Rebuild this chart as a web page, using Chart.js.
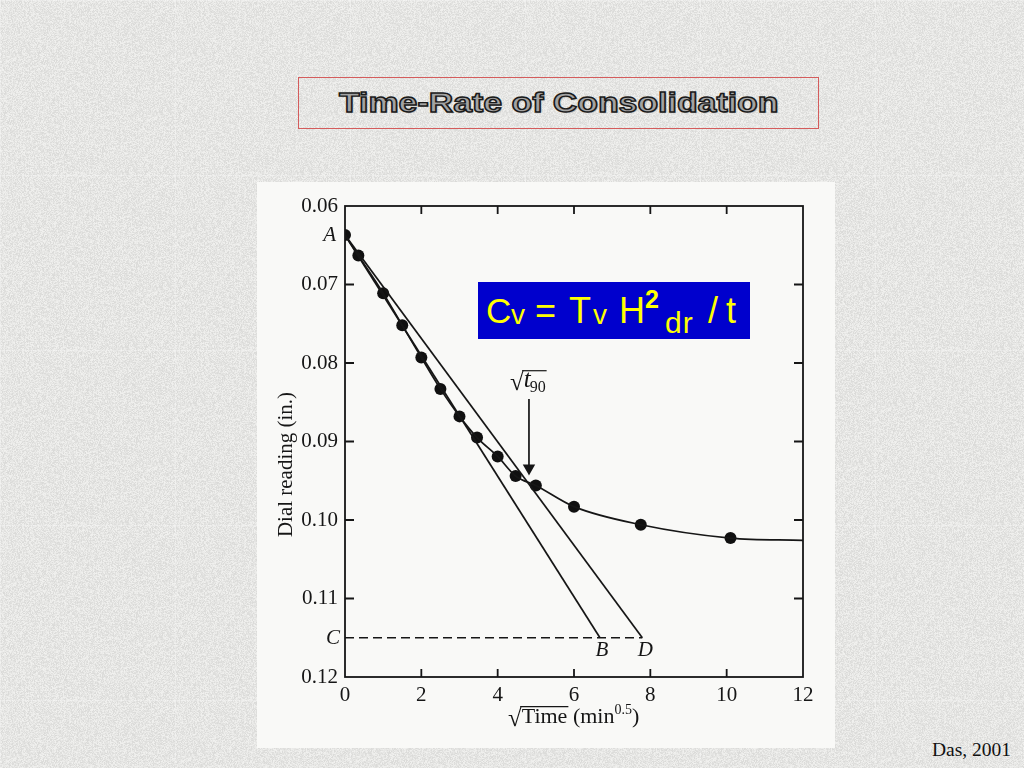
<!DOCTYPE html>
<html><head><meta charset="utf-8">
<script src="https://cdn.jsdelivr.net/npm/chart.js@4.4.0/dist/chart.umd.min.js"></script>
<style>
html,body{margin:0;padding:0;width:1024px;height:768px;overflow:hidden;background:#e3e3e1;}
#title{position:absolute;left:298px;top:77px;width:519px;height:50px;border:1.5px solid #d45c5c;display:flex;align-items:center;justify-content:center;}
#title span{font:bold 28px "Liberation Sans",Arial,sans-serif;color:#a3a3a3;-webkit-text-stroke:1.4px #1a1a1a;display:inline-block;white-space:nowrap;transform-origin:center;text-shadow:1px 1px 1px rgba(0,0,0,0.25);}
#plot{position:absolute;left:257px;top:182px;width:578px;height:566px;background:#f9f9f7;}
canvas#c{position:absolute;left:257px;top:182px;}
#formula{position:absolute;left:478px;top:282px;width:272px;height:57px;background:#0000cd;color:#ffff00;font-family:"Liberation Sans",Arial,sans-serif;white-space:nowrap;}
#formula span{position:absolute;line-height:1;}
#src{position:absolute;left:932px;top:739px;font:19.5px "Liberation Serif","Times New Roman",serif;color:#111;}
</style></head>
<body>
<div id="plot"></div>
<canvas id="c" width="578" height="566"></canvas>
<div id="title"><span id="tt">Time-Rate of Consolidation</span></div>
<div id="formula">
  <span style="left:8px;top:11.4px;font-size:35px">C</span>
  <span style="left:33px;top:19.3px;font-size:28px">v</span>
  <span style="left:57px;top:10.5px;font-size:36px">=</span>
  <span style="left:91px;top:10.5px;font-size:36px">T</span>
  <span style="left:115px;top:19.3px;font-size:28px">v</span>
  <span style="left:141px;top:10.5px;font-size:36px">H</span>
  <span style="left:167px;top:5.2px;font-size:25px;font-weight:700;font-family:'Liberation Sans',Arial,sans-serif">2</span>
  <span style="left:187px;top:25.6px;font-size:30px;letter-spacing:1px">dr</span>
  <span style="left:230px;top:10.5px;font-size:36px">/</span>
  <span style="left:248px;top:10.5px;font-size:36px">t</span>
</div>
<div id="src">Das, 2001</div>
<script>
// ---- data ----
const sqrtTime    = [0, 0.35, 1.0, 1.5, 2.0, 2.5, 3.0, 3.46, 4.0, 4.47, 5.0, 6.0, 7.75, 10.1];
const dialReading = [0.0637, 0.0663, 0.0711, 0.0752, 0.0793, 0.0833, 0.0868, 0.0895, 0.0919, 0.0944, 0.0956, 0.0983, 0.1006, 0.1023];
const curveEndX = [12];
const curveEndY = [0.1026];
const lineAB_x = [0, 6.68];
const lineAB_y = [0.0637, 0.115];
const lineAD_x = [0, 7.79];
const lineAD_y = [0.0637, 0.115];
const lineC_x  = [0, 7.79];
const lineC_y  = [0.115, 0.115];
const arrowX   = [4.82, 4.82];
const arrowY   = [0.0846, 0.0934];
const xTicks = [0, 2, 4, 6, 8, 10, 12];
const yTicks = [0.06, 0.07, 0.08, 0.09, 0.10, 0.11, 0.12];
const xTickLabels = ['0', '2', '4', '6', '8', '10', '12'];
const yTickLabels = ['0.06', '0.07', '0.08', '0.09', '0.10', '0.11', '0.12'];

// background texture (decorative)
(function(){
  const t=document.createElement('canvas'); t.width=175; t.height=175;
  const g=t.getContext('2d'); const im=g.createImageData(175,175);
  let s=12345;
  for(let i=0;i<175*175;i++){ s=(s*1103515245+12345)&0x7fffffff; const v=224+((s>>16)%24)-6;
    im.data[i*4]=v; im.data[i*4+1]=v; im.data[i*4+2]=v-2; im.data[i*4+3]=255; }
  g.putImageData(im,0,0);
  g.fillStyle='rgba(255,255,255,0.25)'; g.fillRect(0,0,175,1); g.fillRect(0,0,1,175);
  document.body.style.backgroundImage='url('+t.toDataURL()+')';
  document.body.style.backgroundPosition='0px 0px';
})();

// title stretch
(function(){ const sp=document.getElementById('tt'); const w=sp.offsetWidth; sp.style.transform='scaleX('+(440/w)+')'; })();

const pts = sqrtTime.map((x,i)=>({x, y: dialReading[i]}));
const curve = pts.concat(curveEndX.map((x,i)=>({x, y: curveEndY[i]})));
const mk = (xs, ys) => xs.map((x,i)=>({x, y: ys[i]}));
const ink = '#161616';
const SERIF = '"Liberation Serif","Times New Roman",serif';

const frame = {
  id:'frame',
  afterDatasetsDraw(chart){
    const {ctx, chartArea:a, scales:{x,y}} = chart;
    ctx.save();
    ctx.strokeStyle=ink; ctx.lineWidth=1.8;
    ctx.strokeRect(a.left,a.top,a.right-a.left,a.bottom-a.top);
    ctx.beginPath();
    xTicks.slice(1,-1).forEach(v=>{const px=x.getPixelForValue(v);
      ctx.moveTo(px,a.bottom); ctx.lineTo(px,a.bottom-8); ctx.moveTo(px,a.top); ctx.lineTo(px,a.top+8);});
    yTicks.slice(1,-1).forEach(v=>{const py=y.getPixelForValue(v);
      ctx.moveTo(a.left,py); ctx.lineTo(a.left+9,py); ctx.moveTo(a.right,py); ctx.lineTo(a.right-9,py);});
    ctx.stroke();
    ctx.fillStyle=ink;
    ctx.font='italic 21px '+SERIF;
    ctx.textAlign='right'; ctx.textBaseline='middle';
    ctx.fillText('A', a.left-9, y.getPixelForValue(lineAB_y[0]));
    ctx.fillText('C', a.left-5, y.getPixelForValue(lineC_y[0])+1);
    ctx.textAlign='center';
    ctx.fillText('B', x.getPixelForValue(lineAB_x[1])+2, y.getPixelForValue(lineAB_y[1])+13);
    ctx.fillText('D', x.getPixelForValue(lineAD_x[1])+3, y.getPixelForValue(lineAD_y[1])+13);
    // sqrt(t90) label
    const ax = x.getPixelForValue(arrowX[0]);
    const base = y.getPixelForValue(arrowY[0]) - 12;
    ctx.textBaseline='alphabetic'; ctx.textAlign='left';
    ctx.font='25px '+SERIF;
    const rad='\u221A'; const rm=ctx.measureText(rad);
    let cx = ax - 19;
    ctx.fillText(rad, cx, base+3);
    const rTop = base+3 - rm.actualBoundingBoxAscent;
    let start = cx + rm.width;
    cx = start;
    ctx.font='italic 25px '+SERIF; ctx.fillText('t', cx, base); cx += ctx.measureText('t').width;
    ctx.font='16px '+SERIF; ctx.fillText('90', cx-1, base+5); cx += ctx.measureText('90').width-1;
    ctx.lineWidth=1.2; ctx.beginPath(); ctx.moveTo(start-1.5, rTop+0.6); ctx.lineTo(cx+1, rTop+0.6); ctx.stroke();
    // y axis title
    ctx.save();
    ctx.translate(29, (a.top+a.bottom)/2 + 23);
    ctx.rotate(-Math.PI/2);
    ctx.font='21px '+SERIF; ctx.textAlign='center'; ctx.textBaseline='middle';
    ctx.fillText('Dial reading (in.)', 0, 0);
    ctx.restore();
    // x axis title
    ctx.textAlign='left'; ctx.textBaseline='alphabetic';
    const xb = 541; let xx = 251;
    ctx.font='25px '+SERIF;
    const m2 = ctx.measureText(rad);
    ctx.fillText(rad, xx, xb+3);
    const top2 = xb+3 - m2.actualBoundingBoxAscent;
    xx += m2.width; const s2 = xx;
    ctx.font='22px '+SERIF;
    ctx.fillText('Time', xx, xb); xx += ctx.measureText('Time').width;
    ctx.lineWidth=1.2; ctx.beginPath(); ctx.moveTo(s2-1.5, top2+0.6); ctx.lineTo(xx+1, top2+0.6); ctx.stroke();
    xx += ctx.measureText(' ').width;
    ctx.fillText('(min', xx, xb); xx += ctx.measureText('(min').width;
    ctx.font='14px '+SERIF; ctx.fillText('0.5', xx, xb-9); xx += ctx.measureText('0.5').width;
    ctx.font='22px '+SERIF; ctx.fillText(')', xx, xb);
    ctx.restore();
  }
};

new Chart(document.getElementById('c'), {
  type:'scatter',
  data:{ datasets:[
    { data: curve, showLine:true, borderColor:ink, borderWidth:1.7, pointRadius:0, cubicInterpolationMode:'monotone', fill:false },
    { data: mk(lineAB_x, lineAB_y), showLine:true, borderColor:ink, borderWidth:1.7, pointRadius:0 },
    { data: mk(lineAD_x, lineAD_y), showLine:true, borderColor:ink, borderWidth:1.7, pointRadius:0 },
    { data: mk(lineC_x, lineC_y), showLine:true, borderColor:ink, borderWidth:1.7, borderDash:[9,5], pointRadius:0 },
    { data: mk(arrowX, arrowY), showLine:true, borderColor:ink, borderWidth:1.7,
      pointRadius:[0,5.5], pointStyle:'triangle', rotation:180, pointBackgroundColor:ink, pointBorderColor:ink },
    { data: pts, showLine:false, pointRadius:6, pointBackgroundColor:'#101010', pointBorderColor:'#101010', pointBorderWidth:0 }
  ]},
  options:{
    responsive:false, animation:false, devicePixelRatio:1,
    layout:{ padding:{ top:24, right:32, left:0, bottom:0 } },
    plugins:{ legend:{display:false}, tooltip:{enabled:false} },
    scales:{
      x:{ type:'linear', min:0, max:12,
        afterBuildTicks: s => { s.ticks = xTicks.map(v=>({value:v})); },
        afterFit: s => { s.height = 71; },
        grid:{ display:false, drawTicks:false }, border:{ display:false },
        ticks:{ padding:6, color:ink, font:{ family:SERIF, size:21 }, maxRotation:0, autoSkip:false,
          callback:(v)=> xTickLabels[xTicks.indexOf(v)] } },
      y:{ type:'linear', min:0.06, max:0.12, reverse:true,
        afterBuildTicks: s => { s.ticks = yTicks.map(v=>({value:v})); },
        afterFit: s => { s.width = 88; },
        grid:{ display:false, drawTicks:false }, border:{ display:false },
        ticks:{ padding:7, color:ink, font:{ family:SERIF, size:21 }, autoSkip:false,
          callback:(v)=> yTickLabels[yTicks.findIndex(t=>Math.abs(t-v)<1e-9)] } }
    }
  },
  plugins:[frame]
});
</script>
</body></html>
